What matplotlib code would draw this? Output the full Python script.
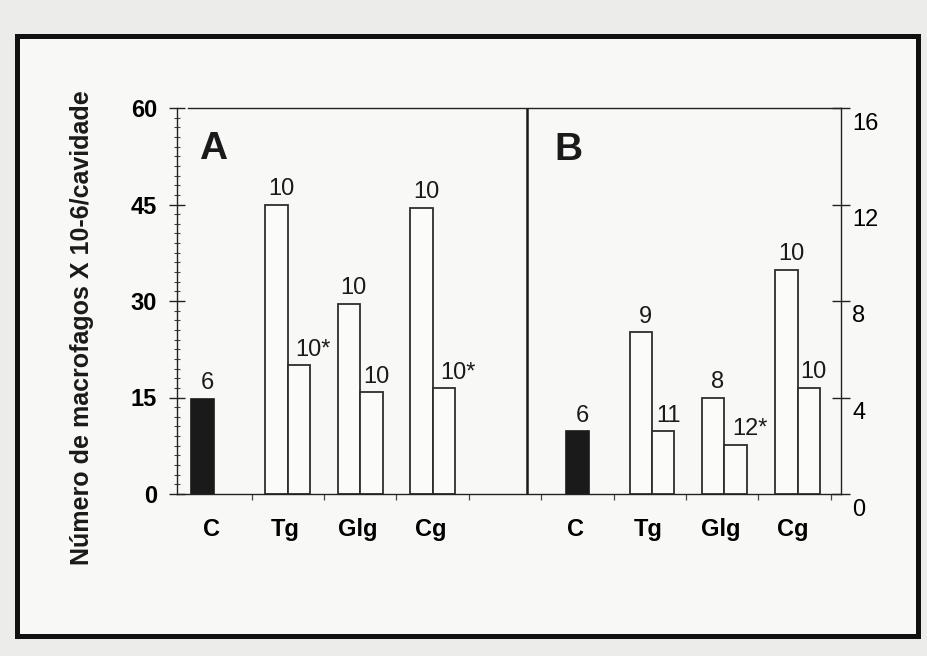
import numpy as np
import matplotlib
matplotlib.use("Agg")
import matplotlib.pyplot as plt
import matplotlib.transforms as mtransforms
from matplotlib.patches import Rectangle
from matplotlib.ticker import MultipleLocator

plt.rcParams["font.family"] = ["Liberation Sans", "DejaVu Sans"]
plt.rcParams["text.color"] = "#1a1a1a"

categories = ["C", "Tg", "Glg", "Cg"]

# painel A, escala 0-60
a_control = 14.8
a_first = [45.0, 29.5, 44.5]
a_second = [20.0, 15.8, 16.4]
a_control_n = "6"
a_first_n = ["10", "10", "10"]
a_second_n = ["10*", "10", "10*"]

# painel B, escala 0-16
b_control = 2.6
b_first = [6.7, 4.0, 9.3]
b_second = [2.6, 2.05, 4.4]
b_control_n = "6"
b_first_n = ["9", "8", "10"]
b_second_n = ["11", "12*", "10"]

a_ticks = [0, 15, 30, 45, 60]
b_ticks = [0, 4, 8, 12, 16]

# posicoes no eixo x (uma unidade = distancia entre marcas)
ctrl_a, ctrl_b = 0.32, 5.5
grp_a = np.array([1.5, 2.5, 3.5])
grp_b = np.array([6.53, 7.53, 8.54])
cat_pos = [0.45, 1.47, 2.47, 3.47, 5.48, 6.48, 7.48, 8.48]
w = 0.31
divider = 4.81
dark = "#1a1a1a"
edge = "#2e2e2e"
white = "#fbfbfa"

W, H = 927, 656
fig = plt.figure(figsize=(W / 100, H / 100), dpi=100, facecolor="#ececea")
fig.patches.append(Rectangle((17 / W, 20 / H), 901 / W, 600 / H,
                             transform=fig.transFigure, fc="#f8f8f6",
                             ec="#111111", lw=3.6, zorder=-1))

ax = fig.add_axes([177 / W, 162 / H, 664 / W, 386 / H])
ax.set_facecolor("none")
ax.set_xlim(-0.03, 9.14)
ax.set_ylim(0, 60)

ax2 = ax.twinx()
ax2.set_ylim(0, 16)


def label_bars(axis, xs, hs, labels):
    for x, h, lab in zip(xs, hs, labels):
        dx = 10 if lab.endswith("*") else 3.5
        axis.annotate(lab, (x, h), xytext=(dx, 7), textcoords="offset points",
                      ha="center", va="baseline", fontsize=17)


# A
ax.bar(ctrl_a, a_control, w, color=dark, edgecolor=dark, lw=1.2)
ax.bar(grp_a - w / 2, a_first, w, color=white, edgecolor=edge, lw=1.3)
ax.bar(grp_a + w / 2, a_second, w, color=white, edgecolor=edge, lw=1.3)
label_bars(ax, [ctrl_a], [a_control], [a_control_n])
label_bars(ax, grp_a - w / 2, a_first, a_first_n)
label_bars(ax, grp_a + w / 2, a_second, a_second_n)

# B
ax2.bar(ctrl_b, b_control, w, color=dark, edgecolor=dark, lw=1.2)
ax2.bar(grp_b - w / 2, b_first, w, color=white, edgecolor=edge, lw=1.3)
ax2.bar(grp_b + w / 2, b_second, w, color=white, edgecolor=edge, lw=1.3)
label_bars(ax2, [ctrl_b], [b_control], [b_control_n])
label_bars(ax2, grp_b - w / 2, b_first, b_first_n)
label_bars(ax2, grp_b + w / 2, b_second, b_second_n)

ax.axvline(divider, color="#1a1a1a", lw=1.8)

# eixos
for s in ax.spines.values():
    s.set_color("#222222")
    s.set_linewidth(1.0)
ax.spines["right"].set_visible(False)
ax.spines["left"].set_bounds(0, 60)
ax.spines["top"].set_bounds(0.12, 9.14)
for name in ["left", "top", "bottom"]:
    ax2.spines[name].set_visible(False)
ax2.spines["right"].set_color("#222222")
ax2.spines["right"].set_linewidth(1.0)

ax.set_yticks(a_ticks, labels=[str(t) for t in a_ticks], fontweight="bold")
ax.yaxis.set_minor_locator(MultipleLocator(1.5))
ax.tick_params(axis="y", which="major", direction="inout", length=12,
               width=1.0, pad=8.4, labelsize=17, color="#222222")
ax.tick_params(axis="y", which="minor", direction="inout", length=5,
               width=0.8, color="#444444")

ax.set_xticks(np.arange(1, 10), labels=[""] * 9)
ax.tick_params(axis="x", which="major", direction="out", length=4,
               width=0.9, color="#444444")
ax.set_xticks(cat_pos, labels=categories * 2, minor=True, fontweight="bold")
ax.tick_params(axis="x", which="minor", length=0, pad=17, labelsize=17)

ax2.set_yticks(b_ticks, labels=[str(t) for t in b_ticks])
ax2.tick_params(axis="y", direction="inout", length=13, width=1.0, pad=1.5,
                labelsize=17, color="#222222")
shift = mtransforms.ScaledTranslation(0, -0.13, fig.dpi_scale_trans)
for lab in ax2.get_yticklabels():
    lab.set_transform(lab.get_transform() + shift)

ax.text(0.054, 0.894, "A", transform=ax.transAxes, ha="center", va="center",
        fontsize=28, fontweight="bold")
ax.text(0.589, 0.891, "B", transform=ax.transAxes, ha="center", va="center",
        fontsize=28, fontweight="bold")

fig.text(82 / W, 1 - 328 / H, "Número de macrofagos X 10-6/cavidade",
         rotation=90, ha="center", va="center", fontsize=18, fontweight="bold")

fig.savefig("out.png", dpi=100, facecolor=fig.get_facecolor())
